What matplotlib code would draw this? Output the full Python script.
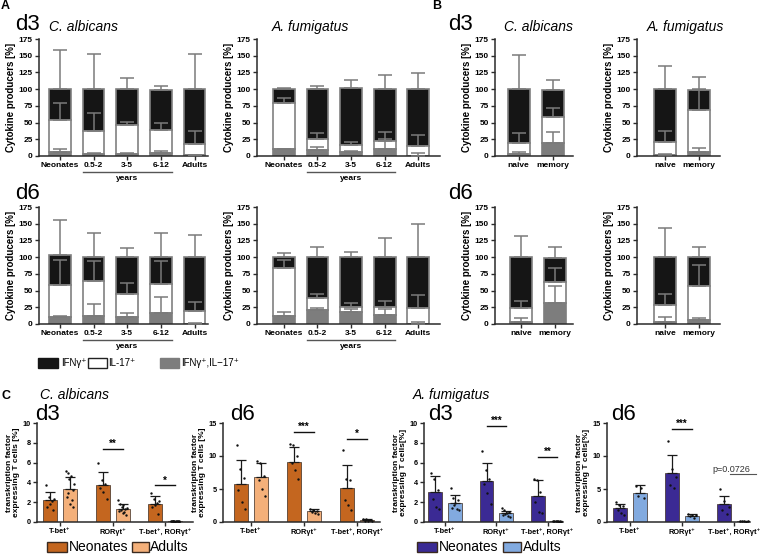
import matplotlib
matplotlib.use('Agg')
import matplotlib.pyplot as plt
import numpy as np
from matplotlib.patches import Rectangle

plt.rcParams['font.family'] = ['Liberation Sans', 'DejaVu Sans']

W, H = 760, 554
fig = plt.figure(figsize=(7.6, 5.54), dpi=100)

# ---------------- data: panel A (age groups) ----------------
age_groups = ['Neonates', '0.5-2', '3-5', '6-12', 'Adults']
subsets = ['naive', 'memory']

# segment heights (IFNg+IL-17+ double = grey, IL-17+ = white, IFNg+ = black) and upper SD
A_d3_calb_dbl = [6.5, 3.5, 3, 5, 1]
A_d3_calb_dbl_sd = [3.5, 1.5, 1, 2, 0.5]
A_d3_calb_il17 = [47.5, 34.5, 44, 34, 17]
A_d3_calb_il17_sd = [26, 27, 4, 11, 20]
A_d3_calb_ifng = [46, 62, 53, 59, 82]
A_d3_calb_ifng_sd = [59, 52, 16, 7, 52]

A_d3_afum_dbl = [10, 9.5, 6.5, 10.5, 0.5]
A_d3_afum_dbl_sd = [1, 4.5, 1.5, 14.5, 3.5]
A_d3_afum_il17 = [69, 16, 10, 12.5, 15]
A_d3_afum_il17_sd = [8.5, 8.5, 5, 12.5, 16]
A_d3_afum_ifng = [21, 74.5, 84.5, 77, 84.5]
A_d3_afum_ifng_sd = [1, 5, 12, 21, 24]

A_d6_calb_dbl = [10, 12.5, 11, 17, 0.5]
A_d6_calb_dbl_sd = [2.5, 17, 5, 24, 1.5]
A_d6_calb_il17 = [48.5, 52.5, 33.5, 42.5, 19.5]
A_d6_calb_il17_sd = [37.5, 28.5, 16.5, 35, 12.5]
A_d6_calb_ifng = [45, 35, 55.5, 40.5, 80]
A_d6_calb_ifng_sd = [51.5, 36, 13.5, 36, 32.5]

A_d6_afum_dbl = [12.5, 21, 18, 13.5, 0.5]
A_d6_afum_dbl_sd = [6, 3.5, 4, 8.5, 3]
A_d6_afum_il17 = [72, 18.5, 8, 11.5, 23]
A_d6_afum_il17_sd = [11.5, 5.5, 6, 9.5, 20.5]
A_d6_afum_ifng = [15.5, 60.5, 74, 75, 76.5]
A_d6_afum_ifng_sd = [6, 14.5, 7.5, 29, 50]

# ---------------- data: panel B (naive / memory) ----------------
B_d3_calb_dbl = [3, 20]
B_d3_calb_dbl_sd = [3.5, 16.5]
B_d3_calb_il17 = [16, 39]
B_d3_calb_il17_sd = [15, 12.5]
B_d3_calb_ifng = [81, 40]
B_d3_calb_ifng_sd = [51.5, 15]

B_d3_afum_dbl = [1.5, 6.5]
B_d3_afum_dbl_sd = [1.5, 5]
B_d3_afum_il17 = [20, 62.5]
B_d3_afum_il17_sd = [16, 31]
B_d3_afum_ifng = [78.5, 30]
B_d3_afum_ifng_sd = [34, 19]

B_d6_calb_dbl = [3.5, 31]
B_d6_calb_dbl_sd = [5, 25.5]
B_d6_calb_il17 = [20.5, 31.5]
B_d6_calb_il17_sd = [10.5, 21]
B_d6_calb_ifng = [76, 36.5]
B_d6_calb_ifng_sd = [31.5, 16]

B_d6_afum_dbl = [3, 5.5]
B_d6_afum_dbl_sd = [7.5, 3.5]
B_d6_afum_il17 = [25, 51]
B_d6_afum_il17_sd = [17.5, 31.5]
B_d6_afum_ifng = [72, 43.5]
B_d6_afum_ifng_sd = [44, 15.5]

# ---------------- data: panel C (transcription factors) ----------------
tf_labels = ['T-bet\u207a', 'ROR\u03b3t\u207a', 'T-bet\u207a, ROR\u03b3t\u207a']

C_d3_calb_neo_mean = [2.25, 3.7, 1.85]
C_d3_calb_neo_sd = [0.8, 1.35, 0.75]
C_d3_calb_neo_pts = [[3.7, 2.5, 2.3, 2.1, 1.8, 1.5, 1.2],
                     [6.0, 4.2, 3.8, 3.4, 3.0, 2.3],
                     [2.9, 2.3, 2.1, 1.9, 1.7, 1.5, 0.8]]
C_d3_calb_ad_mean = [3.3, 1.35, 0.1]
C_d3_calb_ad_sd = [1.2, 0.45, 0.05]
C_d3_calb_ad_pts = [[5.2, 4.9, 4.6, 4.3, 3.8, 3.2, 2.9, 2.5, 2.2, 1.8, 1.5],
                    [2.2, 1.8, 1.7, 1.5, 1.4, 1.3, 1.2, 1.1, 1.0, 0.9, 0.7],
                    [0.15, 0.12, 0.1, 0.1, 0.1, 0.1, 0.08, 0.08, 0.06, 0.05, 0.05]]

C_d6_calb_neo_mean = [5.7, 9.1, 5.15]
C_d6_calb_neo_sd = [3.7, 2.2, 3.45]
C_d6_calb_neo_pts = [[11.7, 8.0, 6.7, 4.9, 3.0, 2.0],
                     [11.8, 11.6, 10.0, 8.9, 7.9, 6.5],
                     [10.9, 6.5, 6.3, 3.3, 2.6, 1.8]]
C_d6_calb_ad_mean = [6.8, 1.6, 0.3]
C_d6_calb_ad_sd = [2.2, 0.3, 0.15]
C_d6_calb_ad_pts = [[9.3, 8.9, 7.0, 6.3, 5.0, 4.0],
                    [1.9, 1.8, 1.7, 1.5, 1.3, 1.2],
                    [0.5, 0.4, 0.3, 0.2, 0.2, 0.1]]

C_d3_afum_neo_mean = [3.0, 4.15, 2.6]
C_d3_afum_neo_sd = [1.65, 1.8, 1.65]
C_d3_afum_neo_pts = [[5.0, 4.3, 3.2, 2.3, 1.5, 1.3],
                     [7.2, 5.3, 4.3, 3.8, 2.9, 1.8],
                     [4.3, 4.2, 3.0, 2.0, 1.0, 0.9]]
C_d3_afum_ad_mean = [1.95, 0.9, 0.08]
C_d3_afum_ad_sd = [0.75, 0.2, 0.03]
C_d3_afum_ad_pts = [[3.4, 2.4, 2.2, 1.9, 1.7, 1.4, 1.3, 1.2],
                    [1.4, 1.2, 1.0, 0.9, 0.8, 0.7, 0.6, 0.5],
                    [0.1, 0.1, 0.08, 0.08, 0.07, 0.06, 0.05, 0.05]]

C_d6_afum_neo_mean = [2.1, 7.45, 2.7]
C_d6_afum_neo_sd = [0.7, 2.65, 1.3]
C_d6_afum_neo_pts = [[3.0, 2.6, 2.4, 1.8, 1.3, 1.0],
                     [12.3, 8.0, 6.8, 5.6, 5.1],
                     [5.0, 3.2, 2.2, 1.8, 1.2]]
C_d6_afum_ad_mean = [4.4, 0.95, 0.1]
C_d6_afum_ad_sd = [1.2, 0.25, 0.05]
C_d6_afum_ad_pts = [[5.5, 5.2, 3.9, 3.6],
                    [1.2, 1.1, 1.0, 0.9, 0.6],
                    [0.15, 0.1, 0.1, 0.08, 0.05]]

# significance: (group index, y level, text)
C_d3_calb_sig = [(1, 7.4, '**'), (2, 3.7, '*')]
C_d6_calb_sig = [(1, 13.6, '***'), (2, 12.6, '*')]
C_d3_afum_sig = [(1, 9.7, '***'), (2, 6.6, '**')]
C_d6_afum_sig = [(1, 14.1, '***')]

# ---------------- styling ----------------
BLACK = '#151515'
GREY = '#7d7d7d'
EDGE = '#808080'
ERR = '#7a7a7a'
AX = '#2a2a2a'
NEO_OR, AD_OR = '#c4661f', '#f4b07a'
NEO_BL, AD_BL = '#3b2a94', '#82aadf'


def axpx(x0, y0, x1, y1):
    return fig.add_axes([x0 / W, 1 - y1 / H, (x1 - x0) / W, (y1 - y0) / H])


def style(ax, fs=6):
    for s in ['top', 'right']:
        ax.spines[s].set_visible(False)
    for s in ['left', 'bottom']:
        ax.spines[s].set_linewidth(1.1)
        ax.spines[s].set_color(AX)
    ax.tick_params(length=3, width=1, colors=AX, labelsize=fs, pad=1.5)
    for t in ax.get_xticklabels() + ax.get_yticklabels():
        t.set_fontweight('bold')
        t.set_color('black')


def stacked(ax, cats, dbl, dbl_sd, il17, il17_sd, ifng, ifng_sd, xlim, years=False):
    x = np.arange(len(cats))
    w = 0.65
    b1 = np.array(dbl, float)
    b2 = b1 + np.array(il17, float)
    b3 = b2 + np.array(ifng, float)
    ax.bar(x, ifng, w, bottom=b2, color=BLACK, edgecolor=EDGE, lw=1.2, zorder=2)
    ax.bar(x, il17, w, bottom=b1, color='white', edgecolor=EDGE, lw=1.2, zorder=2)
    ax.bar(x, dbl, w, color=GREY, edgecolor=GREY, lw=1.2, zorder=2)
    for tops, sd in [(b3, ifng_sd), (b2, il17_sd), (b1, dbl_sd)]:
        ax.errorbar(x, tops, yerr=[np.zeros(len(x)), sd], fmt='none', ecolor=ERR,
                    elinewidth=1.1, capsize=5, capthick=1.1, zorder=3)
    ax.set_ylim(0, 175)
    ax.set_yticks(np.arange(0, 176, 25))
    ax.set_xlim(*xlim)
    ax.set_xticks(x)
    ax.set_xticklabels(cats)
    ax.set_ylabel('Cytokine producers [%]', fontsize=7, fontweight='bold', labelpad=2)
    style(ax, 6)
    if years:
        tr = ax.get_xaxis_transform()
        ax.plot([0.68, 3.32], [-0.137, -0.137], transform=tr, color='#555555', lw=1.0, clip_on=False)
        ax.text(2, -0.16, 'years', transform=tr, ha='center', va='top', fontsize=6, fontweight='bold')


def tf_panel(ax, ymax, ystep, nm, nsd, npts, am, asd, apts, cn, ca, xlim, sig, ylabel):
    x = np.arange(3)
    off, w = 0.19, 0.27
    ax.bar(x - off, nm, w, color=cn, edgecolor='#3a2a20', lw=0.5, zorder=2)
    ax.bar(x + off, am, w, color=ca, edgecolor='#3a2a20', lw=0.5, zorder=2)
    ax.errorbar(x - off, nm, yerr=[np.zeros(3), nsd], fmt='none', ecolor='#1a1a1a',
                elinewidth=0.9, capsize=3.5, capthick=0.9, zorder=3)
    ax.errorbar(x + off, am, yerr=[np.zeros(3), asd], fmt='none', ecolor='#1a1a1a',
                elinewidth=0.9, capsize=3.5, capthick=0.9, zorder=3)
    for i in range(3):
        for xc, pts in [(x[i] - off, npts[i]), (x[i] + off, apts[i])]:
            n = len(pts)
            dx = np.linspace(-0.08, 0.08, n)
            ax.scatter(xc + dx[np.argsort(np.arange(n) % 2)], pts, s=3, color='#111111', zorder=4, lw=0)
    for g, y, txt in sig:
        ax.plot([g - off, g + off], [y, y], color='#111111', lw=1.0, clip_on=False)
        ax.text(g, y, txt, ha='center', va='bottom', fontsize=7, fontweight='bold')
    ax.set_ylim(0, ymax)
    ax.set_yticks(np.arange(0, ymax + 0.1, ystep))
    ax.set_xlim(*xlim)
    ax.set_xticks(x)
    ax.set_xticklabels(tf_labels)
    ax.set_ylabel(ylabel, fontsize=6, fontweight='bold', labelpad=2, linespacing=1.0)
    style(ax, 5.3)


# ---------------- Panel A ----------------
ax = axpx(39, 39, 208, 156)
stacked(ax, age_groups, A_d3_calb_dbl, A_d3_calb_dbl_sd, A_d3_calb_il17, A_d3_calb_il17_sd,
        A_d3_calb_ifng, A_d3_calb_ifng_sd, (-0.62, 4.4), years=True)
ax = axpx(257, 39, 440, 156)
stacked(ax, age_groups, A_d3_afum_dbl, A_d3_afum_dbl_sd, A_d3_afum_il17, A_d3_afum_il17_sd,
        A_d3_afum_ifng, A_d3_afum_ifng_sd, (-0.8, 4.65), years=True)
ax = axpx(39, 207, 208, 324)
stacked(ax, age_groups, A_d6_calb_dbl, A_d6_calb_dbl_sd, A_d6_calb_il17, A_d6_calb_il17_sd,
        A_d6_calb_ifng, A_d6_calb_ifng_sd, (-0.62, 4.4), years=True)
ax = axpx(257, 207, 440, 324)
stacked(ax, age_groups, A_d6_afum_dbl, A_d6_afum_dbl_sd, A_d6_afum_il17, A_d6_afum_il17_sd,
        A_d6_afum_ifng, A_d6_afum_ifng_sd, (-0.8, 4.65), years=True)

# ---------------- Panel B ----------------
ax = axpx(495, 39, 573, 156)
stacked(ax, subsets, B_d3_calb_dbl, B_d3_calb_dbl_sd, B_d3_calb_il17, B_d3_calb_il17_sd,
        B_d3_calb_ifng, B_d3_calb_ifng_sd, (-0.7, 1.6))
ax = axpx(637, 39, 720, 156)
stacked(ax, subsets, B_d3_afum_dbl, B_d3_afum_dbl_sd, B_d3_afum_il17, B_d3_afum_il17_sd,
        B_d3_afum_ifng, B_d3_afum_ifng_sd, (-0.82, 1.62))
ax = axpx(495, 207, 573, 324)
stacked(ax, subsets, B_d6_calb_dbl, B_d6_calb_dbl_sd, B_d6_calb_il17, B_d6_calb_il17_sd,
        B_d6_calb_ifng, B_d6_calb_ifng_sd, (-0.76, 1.54))
ax = axpx(637, 207, 720, 324)
stacked(ax, subsets, B_d6_afum_dbl, B_d6_afum_dbl_sd, B_d6_afum_il17, B_d6_afum_il17_sd,
        B_d6_afum_ifng, B_d6_afum_ifng_sd, (-0.82, 1.62))

# ---------------- Panel C ----------------
ylab1 = 'transkription factor\nexpressing T cells [%]'
ylab2 = 'transkription factor\nexpressing T cells[%]'
ax = axpx(37, 423, 193, 522)
tf_panel(ax, 10, 2, C_d3_calb_neo_mean, C_d3_calb_neo_sd, C_d3_calb_neo_pts,
         C_d3_calb_ad_mean, C_d3_calb_ad_sd, C_d3_calb_ad_pts, NEO_OR, AD_OR,
         (-0.44, 2.53), C_d3_calb_sig, ylab1)
ax = axpx(223, 423, 380, 522)
tf_panel(ax, 15, 5, C_d6_calb_neo_mean, C_d6_calb_neo_sd, C_d6_calb_neo_pts,
         C_d6_calb_ad_mean, C_d6_calb_ad_sd, C_d6_calb_ad_pts, NEO_OR, AD_OR,
         (-0.53, 2.43), C_d6_calb_sig, ylab1)
ax = axpx(424, 423, 563, 522)
tf_panel(ax, 10, 2, C_d3_afum_neo_mean, C_d3_afum_neo_sd, C_d3_afum_neo_pts,
         C_d3_afum_ad_mean, C_d3_afum_ad_sd, C_d3_afum_ad_pts, NEO_BL, AD_BL,
         (-0.41, 2.3), C_d3_afum_sig, ylab2)
ax = axpx(607, 423, 750, 522)
tf_panel(ax, 15, 5, C_d6_afum_neo_mean, C_d6_afum_neo_sd, C_d6_afum_neo_pts,
         C_d6_afum_ad_mean, C_d6_afum_ad_sd, C_d6_afum_ad_pts, NEO_BL, AD_BL,
         (-0.44, 2.3), C_d6_afum_sig, ylab2)
# p-value annotation
ax.text(1.95, 7.3, 'p=0.0726', ha='center', va='bottom', fontsize=6.5, color='#333333')
ax.plot([1.92, 2.42], [7.25, 7.25], color='#555555', lw=0.8, clip_on=False)


# ---------------- texts ----------------
def ftext(x, y, s, **kw):
    fig.text(x / W, 1 - y / H, s, **kw)

ftext(1, 6, 'A', fontsize=9, fontweight='bold', va='center')
ftext(432, 6, 'B', fontsize=9, fontweight='bold', va='center')
ftext(1, 396, 'C', fontsize=9, fontweight='bold', va='center')
for x, y in [(15, 24), (448, 24)]:
    ftext(x, y, 'd3', fontsize=16, va='center')
for x, y in [(15, 193), (448, 193)]:
    ftext(x, y, 'd6', fontsize=16, va='center')
ftext(49, 27, 'C. albicans', fontsize=10, style='italic', va='center')
ftext(272, 27, 'A. fumigatus', fontsize=10, style='italic', va='center')
ftext(504, 27, 'C. albicans', fontsize=10, style='italic', va='center')
ftext(647, 27, 'A. fumigatus', fontsize=10, style='italic', va='center')
ftext(40, 395, 'C. albicans', fontsize=10, style='italic', va='center')
ftext(413, 395, 'A. fumigatus', fontsize=10, style='italic', va='center')
for x, lab in [(35, 'd3'), (230, 'd6'), (428, 'd3'), (611, 'd6')]:
    ftext(x, 414, lab, fontsize=16, va='center')


def box(x0, y0, x1, y1, fc, ec):
    fig.add_artist(Rectangle((x0 / W, 1 - y1 / H), (x1 - x0) / W, (y1 - y0) / H,
                             transform=fig.transFigure, facecolor=fc, edgecolor=ec, lw=1.0))

# legend A/B
box(38, 358, 58, 368, BLACK, BLACK)
ftext(61, 363, 'IFN\u03b3\u207a', fontsize=7, va='center')
box(88, 358, 107, 368, 'white', '#222222')
ftext(108, 363, 'IL-17\u207a', fontsize=7, va='center')
box(160, 358, 179, 368, GREY, GREY)
ftext(181, 363, 'IFN\u03b3\u207a,IL\u221217\u207a', fontsize=7, va='center')

# legends C
box(47, 542, 67, 552, NEO_OR, '#3a2a20')
ftext(69, 547, 'Neonates', fontsize=10, va='center')
box(132, 542, 149, 552, AD_OR, '#3a2a20')
ftext(150, 547, 'Adults', fontsize=10, va='center')
box(417, 542, 437, 552, NEO_BL, '#3a2a20')
ftext(439, 547, 'Neonates', fontsize=10, va='center')
box(503, 542, 521, 552, AD_BL, '#3a2a20')
ftext(523, 547, 'Adults', fontsize=10, va='center')

fig.savefig('out.png', dpi=100)
